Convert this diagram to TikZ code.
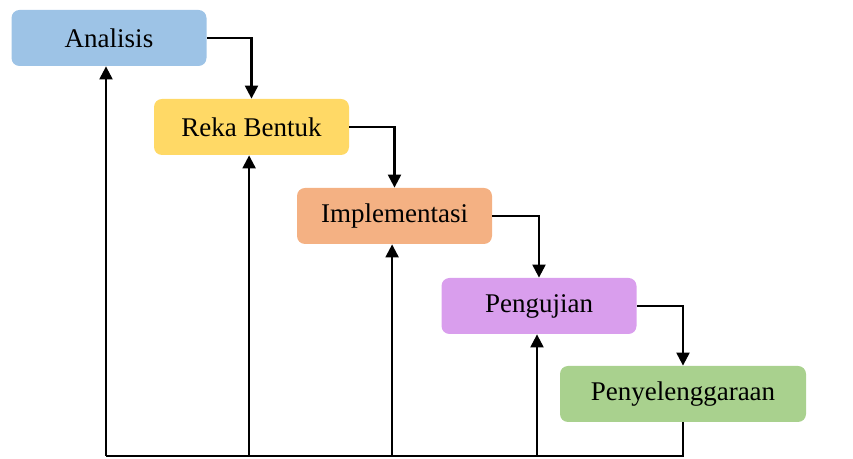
\documentclass[tikz,border=0pt]{standalone}
\usepackage{fontspec}
\setmainfont{Liberation Serif}
\usetikzlibrary{arrows.meta, positioning, calc}

\definecolor{anaBlue}{HTML}{9DC3E6}
\definecolor{rekaYellow}{HTML}{FFD966}
\definecolor{implOrange}{HTML}{F4B183}
\definecolor{ujiPurple}{HTML}{D99EED}
\definecolor{jagaGreen}{HTML}{A9D18E}

\begin{document}
\begin{tikzpicture}[
		x=0.5pt, y=-0.5pt,
		flow/.style={-{Triangle[length=6.5pt,width=6.5pt]}, line width=1.1pt},
		link/.style={line width=1.1pt}
	]
	\tikzstyle{Stage} = [ %basic look of the stage boxes
		text centered,
		rounded corners=4pt,
		minimum height=28pt,
		minimum width=97.5pt,
		inner sep=0pt,
		font=\fontsize{13.5}{16}\selectfont
	]
	\useasboundingbox (0,0) rectangle (853,459);

	\node (ana)  [Stage, fill=anaBlue]    at (109,38)    {Analisis};
	\node (reka) [Stage, fill=rekaYellow] at (251.5,127) {Reka Bentuk};
	\node (impl) [Stage, fill=implOrange] at (394.5,216) {Implementasi};
	\node (uji)  [Stage, fill=ujiPurple]  at (539,306)   {Pengujian};
	\node (jaga) [Stage, fill=jagaGreen, minimum width=123pt] at (683,394) {Penyelenggaraan};

	% forward steps
	\draw[flow] (ana.east)  -| (reka.north);
	\draw[flow] (reka.east) -| (impl.north);
	\draw[flow] (impl.east) -| (uji.north);
	\draw[flow] (uji.east)  -| (jaga.north);

	% feedback line
	\coordinate (base) at (0,456);
	\draw[link] (jaga.south) |- ([xshift=-1.5pt]ana.south |- base);
	\draw[flow] ([xshift=-1.5pt]ana.south |- base)  -- ([xshift=-1.5pt]ana.south);
	\draw[flow] ([xshift=-1.2pt]reka.south |- base) -- ([xshift=-1.2pt]reka.south);
	\draw[flow] ([xshift=-1.2pt]impl.south |- base) -- ([xshift=-1.2pt]impl.south);
	\draw[flow] ([xshift=-1pt]uji.south |- base)    -- ([xshift=-1pt]uji.south);
\end{tikzpicture}
\end{document}
